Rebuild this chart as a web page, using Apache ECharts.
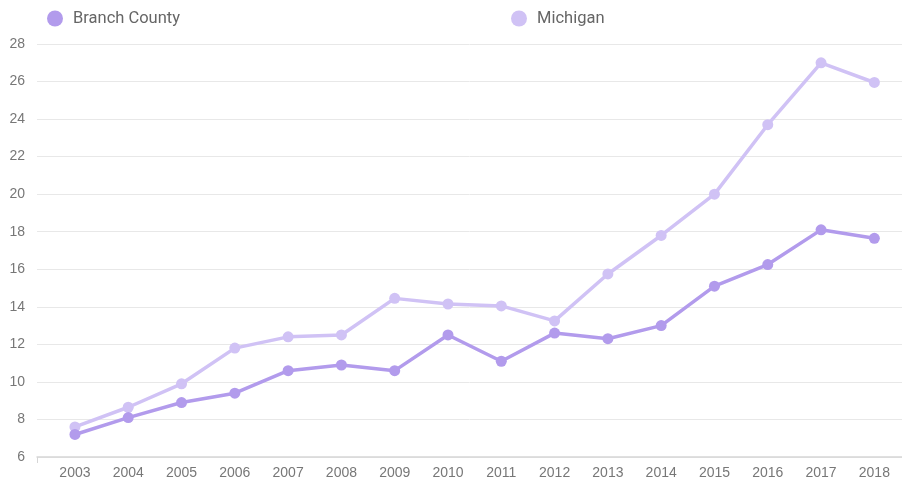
<!DOCTYPE html>
<html>
<head>
<meta charset="utf-8">
<script src="https://cdn.jsdelivr.net/npm/echarts@6/dist/echarts.min.js"></script>
<style>html,body{margin:0;padding:0;background:#fff}#c{width:902px;height:485px}</style>
</head>
<body>
<div id="c"></div>
<script>
const years = ['2003','2004','2005','2006','2007','2008','2009','2010','2011','2012','2013','2014','2015','2016','2017','2018'];
const branchCounty = [7.2, 8.1, 8.9, 9.4, 10.6, 10.9, 10.6, 12.5, 11.1, 12.6, 12.3, 13.0, 15.1, 16.25, 18.1, 17.65];
const michigan = [7.6, 8.65, 9.9, 11.8, 12.4, 12.5, 14.45, 14.15, 14.05, 13.25, 15.75, 17.8, 20.0, 23.7, 27.0, 25.95];
const yMin = 6, yMax = 28, yStep = 2;

const c1 = '#b29bec', c2 = '#d0c2f5';
const chart = echarts.init(document.getElementById('c'));
const axisFont = {color:'#777', fontSize:14, fontFamily:'Liberation Sans, Arial, sans-serif'};
const legendText = {color:'#666', fontSize:16.5, fontFamily:'Roboto, sans-serif', padding:[0,0,0,5]};
chart.setOption({
  animation:false,
  legend:[
    {left:42, top:5, data:[{name:'Branch County', icon:'circle'}], itemWidth:16, itemHeight:16, textStyle:legendText},
    {left:506, top:5, data:[{name:'Michigan', icon:'circle'}], itemWidth:16, itemHeight:16, textStyle:legendText}
  ],
  grid:[
    {left:48.3, right:1, top:44, bottom:28},
    {left:37, right:0, top:44, bottom:28}
  ],
  xAxis:[
    {type:'category', gridIndex:0, data:years, boundaryGap:true,
     axisLine:{show:false}, axisTick:{show:false},
     axisLabel:Object.assign({margin:9}, axisFont)},
    {type:'value', gridIndex:1, min:0, max:1, interval:1,
     axisLine:{show:true, lineStyle:{color:'#d6d6d6', width:1.5}},
     axisTick:{show:true, length:6, lineStyle:{color:'#d6d6d6'}},
     axisLabel:{show:false}, splitLine:{show:false}}
  ],
  yAxis:[
    {type:'value', gridIndex:0, min:yMin, max:yMax, interval:yStep, show:false, splitLine:{show:false}},
    {type:'value', gridIndex:1, min:yMin, max:yMax, interval:yStep,
     axisLine:{show:false}, axisTick:{show:false},
     axisLabel:Object.assign({margin:12}, axisFont),
     splitLine:{show:true, lineStyle:{color:'#e8e8e8', width:1}}}
  ],
  series:[
    {name:'Michigan', type:'line', xAxisIndex:0, yAxisIndex:0, data:michigan,
     symbol:'circle', symbolSize:11, color:c2,
     lineStyle:{width:3.5, color:c2}, itemStyle:{color:c2}, z:2},
    {name:'Branch County', type:'line', xAxisIndex:0, yAxisIndex:0, data:branchCounty,
     symbol:'circle', symbolSize:11, color:c1,
     lineStyle:{width:3.5, color:c1}, itemStyle:{color:c1}, z:3}
  ]
});
</script>
</body>
</html>
